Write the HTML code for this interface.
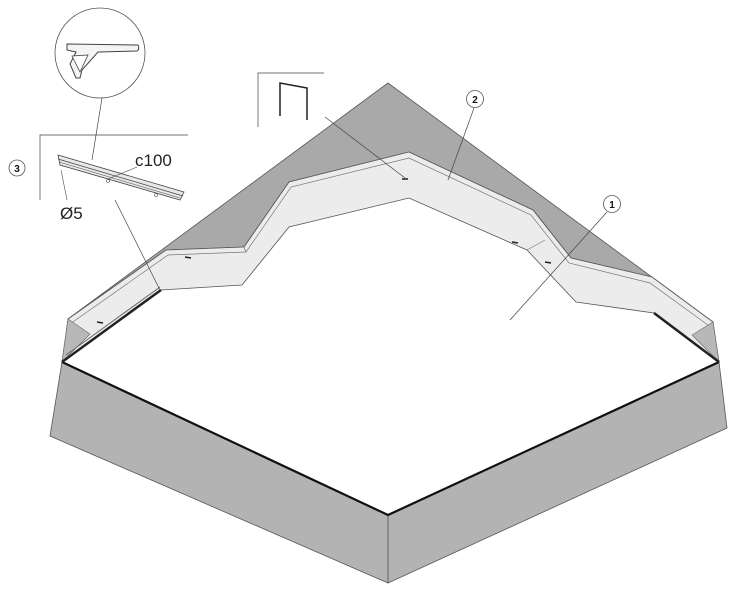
<!DOCTYPE html>
<html><head><meta charset="utf-8"><style>
html,body{margin:0;padding:0;background:#fff;width:738px;height:589px;overflow:hidden}
svg{display:block}
text{font-family:"Liberation Sans","DejaVu Sans",sans-serif}
</style></head><body>
<svg width="738" height="589" viewBox="0 0 738 589" xmlns="http://www.w3.org/2000/svg">
<!-- dark grey roof triangle -->
<polygon points="388,83 68,319 166,250 244,247 289,182 409,152 533,210 571,258 652,277 713,322" fill="#a9a9a9" stroke="#555" stroke-width="0.8"/>
<!-- band -->
<polygon points="68,319 166,250 244,247 289,182 409,152 533,210 571,258 652,277 713,322 719,362 654,313 576,302 527,250 409,198 289,227 242,285 161,290 62,362" fill="#ececec" stroke="#555" stroke-width="0.8"/>
<polyline points="70,324 168,255 246,252 291,187 409,158 531,215 569,263 650,283 712,328" fill="none" stroke="#777" stroke-width="0.7"/>
<!-- band end greys -->
<polygon points="68,319 90,334 62,362" fill="#b8b8b8" stroke="#666" stroke-width="0.6"/>
<polygon points="713,322 692,335 719,362" fill="#b8b8b8" stroke="#666" stroke-width="0.6"/>
<line x1="246" y1="252" x2="244" y2="247" stroke="#555" stroke-width="0.6"/>
<line x1="527" y1="250" x2="545" y2="240" stroke="#777" stroke-width="0.6"/>
<!-- box -->
<polygon points="62,362 388,515 388,583 50,436" fill="#b3b3b3" stroke="#555" stroke-width="0.8"/>
<polygon points="388,515 719,362 727,428 388,583" fill="#b3b3b3" stroke="#555" stroke-width="0.8"/>
<polyline points="62,362 388,515 719,362" fill="none" stroke="#111" stroke-width="2.2"/>
<line x1="62" y1="362" x2="161" y2="290" stroke="#222" stroke-width="2.5"/>
<line x1="66" y1="355" x2="160" y2="287" stroke="#666" stroke-width="1"/>
<line x1="654" y1="313" x2="719" y2="362" stroke="#222" stroke-width="2.5"/>
<!-- small dashes -->
<g stroke="#222" stroke-width="1.5">
<line x1="97" y1="322" x2="103" y2="323"/>
<line x1="185" y1="257" x2="191" y2="258"/>
<line x1="402" y1="179" x2="408" y2="179"/>
<line x1="512" y1="242" x2="518" y2="243"/>
<line x1="545" y1="262" x2="551" y2="263"/>
</g>
<!-- leaders -->
<g stroke="#444" stroke-width="0.7" fill="none">
<line x1="102" y1="98" x2="92" y2="160"/>
<line x1="115" y1="200" x2="160" y2="290"/>
<line x1="325" y1="117" x2="405" y2="178"/>
<line x1="474" y1="108" x2="448" y2="180"/>
<line x1="607" y1="212" x2="510" y2="320"/>
<polyline points="40,200 40,135 188,135"/>
<polyline points="258,127 258,73 324,73"/>
</g>
<!-- staple -->
<polyline points="280,116 280,83 307,88 307,120" fill="none" stroke="#222" stroke-width="1.5"/>
<!-- circle inset -->
<circle cx="100" cy="53" r="45" fill="#fff" stroke="#555" stroke-width="0.8"/>
<path d="M67,44 L138,45 Q140,49 137,51 L98,52 L82,70 L80,78 L76,78 L70,64 L76,52 L67,50 Z" fill="#f4f4f4" stroke="#444" stroke-width="1"/>
<path d="M72,56 L88,55 L80,72 Z" fill="#fff" stroke="#444" stroke-width="0.8"/>
<!-- rail -->
<polygon points="58,155 184,192 180,200 60,165" fill="#e8e8e8" stroke="#444" stroke-width="0.8"/>
<line x1="58" y1="159" x2="183" y2="196" stroke="#444" stroke-width="0.7"/>
<line x1="59" y1="162" x2="180" y2="198" stroke="#444" stroke-width="0.5"/>
<circle cx="108" cy="181" r="1.5" fill="#fff" stroke="#444" stroke-width="0.6"/>
<circle cx="156" cy="195" r="1.5" fill="#fff" stroke="#444" stroke-width="0.6"/>
<line x1="108" y1="179" x2="137" y2="167" stroke="#444" stroke-width="0.6"/>
<line x1="61" y1="170" x2="67" y2="200" stroke="#444" stroke-width="0.6"/>
<text x="135" y="166" font-size="17" fill="#222">c100</text>
<text x="60" y="219" font-size="17" fill="#222">Ø5</text>
<!-- callouts -->
<g fill="#fff" stroke="#555" stroke-width="0.8">
<circle cx="17" cy="168" r="8"/>
<circle cx="475" cy="99" r="8.5"/>
<circle cx="612" cy="204" r="8.5"/>
</g>
<g font-size="10" font-weight="bold" text-anchor="middle" fill="#111">
<text x="17" y="172">3</text>
<text x="475" y="103">2</text>
<text x="612" y="208">1</text>
</g>
</svg>
</body></html>
